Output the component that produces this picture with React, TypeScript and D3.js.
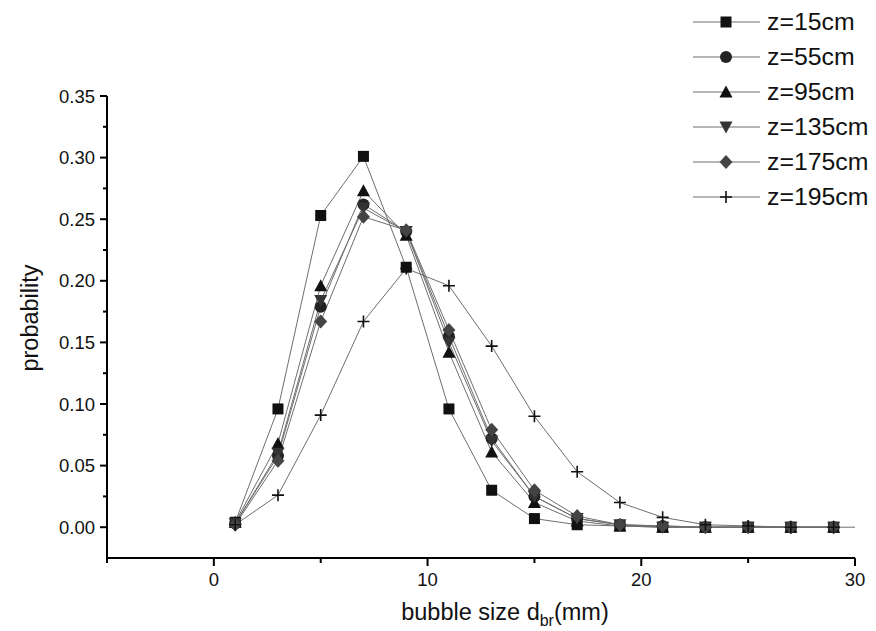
import React from "react";
import * as d3 from "d3";

// bubble diameter classes (mm)
const sizes = [1, 3, 5, 7, 9, 11, 13, 15, 17, 19, 21, 23, 25, 27, 29];

const labels = ["z=15cm", "z=55cm", "z=95cm", "z=135cm", "z=175cm", "z=195cm"];

const z15 = [0.004, 0.096, 0.253, 0.301, 0.211, 0.096, 0.03, 0.007, 0.002, 0.001, 0, 0, 0, 0, 0];
const z55 = [0.003, 0.058, 0.179, 0.262, 0.24, 0.155, 0.072, 0.025, 0.007, 0.002, 0.001, 0, 0, 0, 0];
const z95 = [0.004, 0.068, 0.196, 0.273, 0.237, 0.142, 0.061, 0.02, 0.005, 0.001, 0, 0, 0, 0, 0];
const z135 = [0.003, 0.06, 0.184, 0.259, 0.24, 0.15, 0.07, 0.025, 0.007, 0.002, 0, 0, 0, 0, 0];
const z175 = [0.002, 0.054, 0.167, 0.252, 0.241, 0.16, 0.079, 0.03, 0.009, 0.002, 0.001, 0, 0, 0, 0];
const z195 = [0.002, 0.026, 0.091, 0.167, 0.21, 0.196, 0.147, 0.09, 0.045, 0.02, 0.008, 0.002, 0.001, 0, 0];

const seriesValues = [z15, z55, z95, z135, z175, z195];

const xTicks = [0, 10, 20, 30];
const xMinor = [-5, 5, 15, 25];
const yTicks = [0, 0.05, 0.1, 0.15, 0.2, 0.25, 0.3, 0.35];
const yMinor = [0.025, 0.075, 0.125, 0.175, 0.225, 0.275, 0.325];

const W = 876;
const H = 631;
const FONT = "'Liberation Sans', Arial, sans-serif";

const x = d3.scaleLinear().domain([-5, 30]).range([107, 855]);
const y = d3.scaleLinear().domain([-0.025, 0.35]).range([558, 96]);

const markerFill = ["#111", "#222", "#111", "#333", "#444", "#111"];
const kinds = ["square", "circle", "up", "down", "diamond", "plus"];

function Marker({ kind, cx, cy, fill }: { kind: string; cx: number; cy: number; fill: string }) {
  const s = 5.5;
  if (kind === "square") return <rect x={cx - s} y={cy - s} width={2 * s} height={2 * s} fill={fill} />;
  if (kind === "circle") return <circle cx={cx} cy={cy} r={s + 0.5} fill={fill} />;
  if (kind === "up")
    return <path d={`M${cx},${cy - s - 1}L${cx + s + 1},${cy + s}L${cx - s - 1},${cy + s}Z`} fill={fill} />;
  if (kind === "down")
    return <path d={`M${cx},${cy + s + 1}L${cx + s + 1},${cy - s}L${cx - s - 1},${cy - s}Z`} fill={fill} />;
  if (kind === "diamond")
    return <path d={`M${cx},${cy - s - 1.5}L${cx + s + 1},${cy}L${cx},${cy + s + 1.5}L${cx - s - 1},${cy}Z`} fill={fill} />;
  return (
    <path d={`M${cx - 6},${cy}H${cx + 6}M${cx},${cy - 6}V${cy + 6}`} stroke={fill} strokeWidth={1.6} fill="none" />
  );
}

export default function App() {
  const line = d3
    .line<number>()
    .x((_, i) => x(sizes[i]))
    .y((d) => y(d));

  const x0 = x(-5);
  const yBot = y(-0.025);

  return (
    <svg width={W} height={H} style={{ display: "block", position: "absolute", left: 0, top: 0 }}>
      <rect width={W} height={H} fill="#fff" />

      {/* series lines */}
      {seriesValues.map((vals, si) => (
        <path key={"l" + si} d={line(vals) || ""} fill="none" stroke="#6e6e6e" strokeWidth={1} />
      ))}
      {/* baseline continuation to the end of the axis */}
      <line x1={x(29)} x2={x(30)} y1={y(0)} y2={y(0)} stroke="#6e6e6e" strokeWidth={1} />

      {/* markers */}
      {seriesValues.map((vals, si) =>
        vals.map((v, i) => (
          <Marker key={`m${si}-${i}`} kind={kinds[si]} cx={x(sizes[i])} cy={y(v)} fill={markerFill[si]} />
        ))
      )}

      {/* y axis */}
      <line x1={x0} x2={x0} y1={y(0.35)} y2={yBot} stroke="#000" strokeWidth={2} />
      {yTicks.map((t) => (
        <g key={"yt" + t}>
          <line x1={x0 - 7} x2={x0} y1={y(t)} y2={y(t)} stroke="#000" strokeWidth={2} />
          <text x={x0 - 12} y={y(t)} dy="0.36em" textAnchor="end" fontFamily={FONT} fontSize={18.5} fill="#111">
            {t.toFixed(2)}
          </text>
        </g>
      ))}
      {yMinor.map((t) => (
        <line key={"ym" + t} x1={x0 - 4} x2={x0} y1={y(t)} y2={y(t)} stroke="#000" strokeWidth={2} />
      ))}

      {/* x axis */}
      <line x1={x0} x2={x(30)} y1={yBot} y2={yBot} stroke="#000" strokeWidth={2} />
      {xTicks.map((t) => (
        <g key={"xt" + t}>
          <line x1={x(t)} x2={x(t)} y1={yBot} y2={yBot + 8} stroke="#000" strokeWidth={2} />
          <text x={x(t)} y={yBot + 28} textAnchor="middle" fontFamily={FONT} fontSize={18.5} fill="#111">
            {t}
          </text>
        </g>
      ))}
      {xMinor.map((t) => (
        <line key={"xm" + t} x1={x(t)} x2={x(t)} y1={yBot} y2={yBot + 5} stroke="#000" strokeWidth={2} />
      ))}

      {/* axis titles */}
      <text
        transform={`translate(38,318) rotate(-90)`}
        textAnchor="middle"
        fontFamily={FONT}
        fontSize={23.5}
        fill="#111"
      >
        probability
      </text>
      <text x={505} y={620} textAnchor="middle" fontFamily={FONT} fontSize={23.5} fill="#111">
        bubble size d
        <tspan dy={6} fontSize={16}>br</tspan>
        <tspan dy={-6}>(mm)</tspan>
      </text>

      {/* legend */}
      {labels.map((lab, i) => {
        const ly = 22 + i * 35;
        return (
          <g key={"lg" + i}>
            <line x1={693} x2={760} y1={ly} y2={ly} stroke="#6e6e6e" strokeWidth={1} />
            <Marker kind={kinds[i]} cx={726} cy={ly} fill={markerFill[i]} />
            <text
              transform={`translate(767,${ly}) scale(1.08,1)`}
              dy="0.36em"
              fontFamily={FONT}
              fontSize={23}
              fill="#111"
            >
              {lab}
            </text>
          </g>
        );
      })}
    </svg>
  );
}
